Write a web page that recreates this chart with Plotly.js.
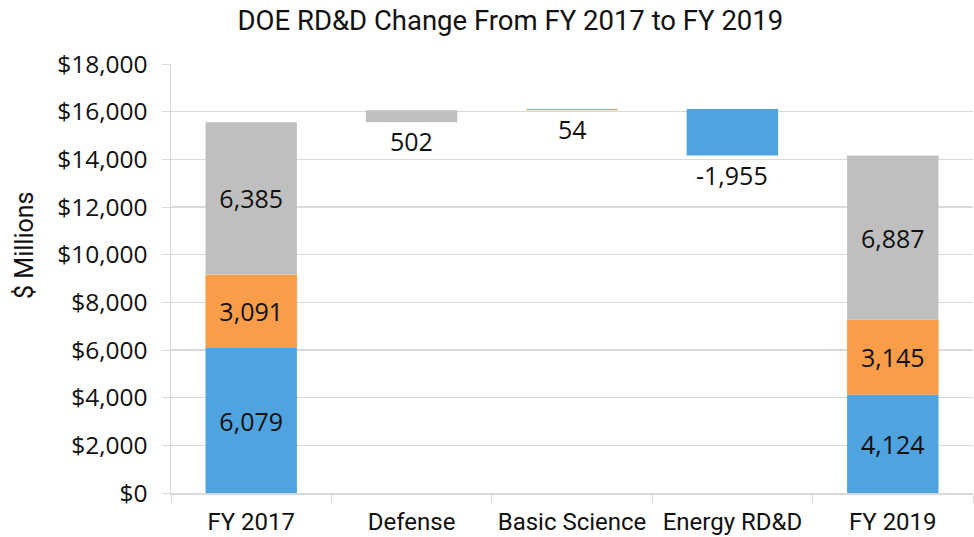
<!DOCTYPE html>
<html>
<head>
<meta charset="utf-8">
<script src="https://cdn.plot.ly/plotly-3.0.1.min.js"></script>
<style>html,body{margin:0;padding:0;background:#fff;}#chart{width:974px;height:537px;}</style>
</head>
<body>
<div id="chart"></div>
<script>
const categories = ['FY 2017', 'Defense', 'Basic Science', 'Energy RD&D', 'FY 2019'];
const fy2017 = { energy: 6079, basic: 3091, defense: 6385 };
const changes = { defense: 502, basic: 54, energy: -1955 };
const fy2019 = { energy: 4124, basic: 3145, defense: 6887 };

const colors = { energy: '#4FA3DF', basic: '#F99D48', defense: '#BFBFBF' };

const total2017 = fy2017.energy + fy2017.basic + fy2017.defense;
const baseDef = total2017;
const baseBasic = baseDef + changes.defense;
const baseEnergy = baseBasic + changes.basic;

const fmt = v => v.toLocaleString('en-US');
const numFamily = 'Open Sans, Liberation Sans, Arial, sans-serif';
const txtFamily = 'Roboto, Liberation Sans, Arial, sans-serif';
const lblFont = { family: numFamily, size: 25, color: '#111' };

function trace(key, changeIdx, changeBase) {
  const y = [fy2017[key], null, null, null, fy2019[key]];
  const base = [0, null, null, null, 0];
  const order = ['energy', 'basic', 'defense'];
  let b17 = 0, b19 = 0;
  for (const k of order) { if (k === key) break; b17 += fy2017[k]; b19 += fy2019[k]; }
  base[0] = b17; base[4] = b19;
  y[changeIdx] = changes[key]; base[changeIdx] = changeBase;
  const text = y.map((v, i) => (i === 0 || i === 4) ? fmt(v) : '');
  return {
    type: 'bar', x: categories, y: y, base: base, text: text,
    textposition: 'inside', insidetextanchor: 'middle', textangle: 0,
    textfont: lblFont, insidetextfont: lblFont,
    marker: { color: colors[key], line: { width: 0 } },
    width: 0.57, hoverinfo: 'skip', showlegend: false, cliponaxis: false
  };
}

const data = [
  trace('energy', 3, baseEnergy),
  trace('basic', 2, baseBasic),
  trace('defense', 1, baseDef)
];

const changeList = [
  { idx: 1, v: changes.defense, b: baseDef },
  { idx: 2, v: changes.basic, b: baseBasic },
  { idx: 3, v: changes.energy, b: baseEnergy }
];
const annotations = changeList.map(c => ({
  x: categories[c.idx], y: Math.min(c.b, c.b + c.v), xref: 'x', yref: 'y',
  text: fmt(c.v), showarrow: false, yanchor: 'top', yshift: 0,
  font: lblFont
}));
annotations.push({
  text: '$ Millions', xref: 'paper', yref: 'paper', x: -0.182, y: 0.576,
  xanchor: 'center', yanchor: 'middle', textangle: -90, showarrow: false,
  font: { family: txtFamily, size: 25, color: '#111' }
});

const layout = {
  width: 974, height: 537,
  margin: { l: 171, r: 1, t: 64, b: 44 },
  paper_bgcolor: '#fff', plot_bgcolor: '#fff',
  barmode: 'overlay',
  title: { text: 'DOE RD&D Change From FY 2017 to FY 2019', x: 0.524, xanchor: 'center', y: 0.962, yanchor: 'middle',
           font: { family: txtFamily, size: 27.5, color: '#111' } },
  xaxis: {
    type: 'category', tickson: 'boundaries', ticks: 'outside', ticklen: 8, tickcolor: '#d9d9d9',
    showline: true, linecolor: '#d9d9d9', linewidth: 1.5, showgrid: false,
    ticklabelstandoff: 7,
    tickfont: { family: txtFamily, size: 24, color: '#111' },
    fixedrange: true
  },
  yaxis: {
    range: [0, 18000], dtick: 2000, tickprefix: '$', tickformat: ',d',
    ticks: 'outside', ticklen: 8, tickcolor: '#d9d9d9',
    showline: true, linecolor: '#d9d9d9', linewidth: 1.5,
    gridcolor: '#d9d9d9', gridwidth: 1.5, zeroline: false,
    ticklabelstandoff: 9,
    tickfont: { family: numFamily, size: 24.5, color: '#111' },
    fixedrange: true
  },
  annotations: annotations,
  bargap: 0.43
};

Plotly.newPlot('chart', data, layout, { displayModeBar: false, staticPlot: true });
</script>
</body>
</html>
